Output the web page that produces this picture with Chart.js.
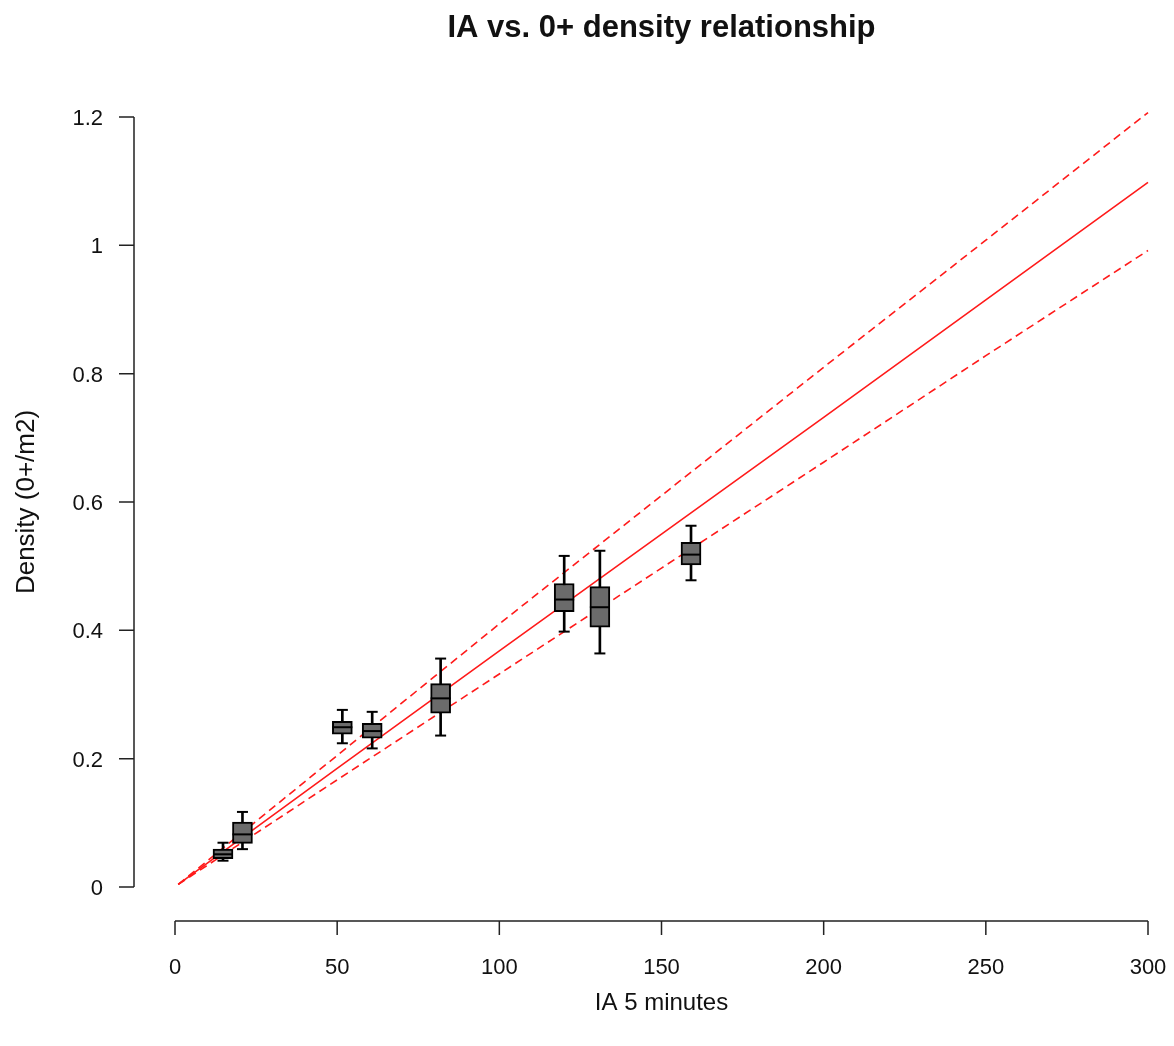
<!DOCTYPE html>
<html>
<head>
<meta charset="utf-8">
<title>IA vs. 0+ density relationship</title>
<script src="https://cdn.jsdelivr.net/npm/chart.js@4/dist/chart.umd.min.js"></script>
<style>
    html, body { margin: 0; padding: 0; background: #fff; }
    #chart { display: block; }
</style>
</head>
<body>
<canvas id="chart" width="1174" height="1046"></canvas>
<script>
// Данные боксплотов (IA, квартили, усы)
const boxX = [14.8, 20.8, 51.6, 60.8, 81.9, 120.0, 131.0, 159.1];
const boxLow = [0.041, 0.059, 0.224, 0.216, 0.236, 0.398, 0.364, 0.478];
const boxQ1 = [0.044, 0.068, 0.238, 0.232, 0.271, 0.429, 0.405, 0.502];
const boxMed = [0.051, 0.082, 0.249, 0.243, 0.294, 0.448, 0.436, 0.518];
const boxQ3 = [0.059, 0.101, 0.258, 0.255, 0.317, 0.473, 0.468, 0.537];
const boxHigh = [0.069, 0.117, 0.276, 0.273, 0.356, 0.516, 0.524, 0.563];

// Линия регрессии и доверительный интервал
const fitX = [1, 50, 100, 150, 200, 250, 300];
const fitY = [0.004, 0.185, 0.368, 0.55, 0.732, 0.915, 1.098];
const upperY = [0.004, 0.205, 0.41, 0.61, 0.81, 1.008, 1.207];
const lowerY = [0.004, 0.167, 0.332, 0.497, 0.662, 0.828, 0.992];

// Деления осей
const xTicks = [0, 50, 100, 150, 200, 250, 300];
const yTicks = [0, 0.2, 0.4, 0.6, 0.8, 1, 1.2];
const yTickLabels = ['0', '0.2', '0.4', '0.6', '0.8', '1', '1.2'];

const FONT = '"Liberation Sans", Arial, sans-serif';

function pts(xs, ys) {
    return xs.map((x, i) => ({ x: x, y: ys[i] }));
}

// Оси в стиле R (отдельно от области графика)
const rAxes = {
    id: 'rAxes',
    afterDraw(chart) {
        const ctx = chart.ctx;
        const xs = chart.scales.x;
        const ys = chart.scales.y;
        const area = chart.chartArea;
        ctx.save();
        ctx.strokeStyle = '#222';
        ctx.lineWidth = 1.5;
        ctx.fillStyle = '#111';

        // ось Y
        const axX = area.left - 41;
        ctx.beginPath();
        ctx.moveTo(axX, ys.getPixelForValue(yTicks[0]));
        ctx.lineTo(axX, ys.getPixelForValue(yTicks[yTicks.length - 1]));
        yTicks.forEach(v => {
            const py = ys.getPixelForValue(v);
            ctx.moveTo(axX, py);
            ctx.lineTo(axX - 15, py);
        });
        ctx.stroke();
        ctx.font = '22px ' + FONT;
        ctx.textAlign = 'right';
        ctx.textBaseline = 'middle';
        yTicks.forEach((v, i) => {
            ctx.fillText(yTickLabels[i], 103, ys.getPixelForValue(v) + 2);
        });

        // ось X
        const axY = area.bottom + 34;
        ctx.beginPath();
        ctx.moveTo(xs.getPixelForValue(xTicks[0]), axY);
        ctx.lineTo(xs.getPixelForValue(xTicks[xTicks.length - 1]), axY);
        xTicks.forEach(v => {
            const px = xs.getPixelForValue(v);
            ctx.moveTo(px, axY);
            ctx.lineTo(px, axY + 14);
        });
        ctx.stroke();
        ctx.textAlign = 'center';
        xTicks.forEach(v => {
            ctx.fillText(String(v), xs.getPixelForValue(v), 968);
        });

        // подписи осей
        ctx.font = '24px ' + FONT;
        ctx.fillText('IA 5 minutes', (area.left + area.right) / 2, 1003);
        ctx.save();
        ctx.translate(27, (area.top + area.bottom) / 2);
        ctx.rotate(-Math.PI / 2);
        ctx.font = '26px ' + FONT;
        ctx.fillText('Density (0+/m2)', 0, 0);
        ctx.restore();

        // заголовок
        ctx.font = 'bold 31px ' + FONT;
        ctx.fillText('IA vs. 0+ density relationship', (area.left + area.right) / 2, 28);
        ctx.restore();
    }
};

const ctx = document.getElementById('chart');

new Chart(ctx, {
    type: 'bar',
    data: {
        datasets: [
            {
                type: 'line',
                data: pts(fitX, upperY),
                borderColor: '#ff1a1a',
                borderWidth: 1.6,
                borderDash: [8, 5],
                pointRadius: 0,
                fill: false,
                clip: false,
                order: 10
            },
            {
                type: 'line',
                data: pts(fitX, lowerY),
                borderColor: '#ff1a1a',
                borderWidth: 1.6,
                borderDash: [8, 5],
                pointRadius: 0,
                fill: false,
                clip: false,
                order: 10
            },
            {
                type: 'line',
                data: pts(fitX, fitY),
                borderColor: '#ff1a1a',
                borderWidth: 1.6,
                pointRadius: 0,
                fill: false,
                clip: false,
                order: 10
            },
            // усы
            {
                type: 'bar',
                data: boxX.map((x, i) => ({ x: x, y: [boxLow[i], boxHigh[i]] })),
                backgroundColor: '#000',
                borderWidth: 0,
                barThickness: 2,
                grouped: false,
                order: 5
            },
            // ящики
            {
                type: 'bar',
                data: boxX.map((x, i) => ({ x: x, y: [boxQ1[i], boxQ3[i]] })),
                backgroundColor: '#6b6b6b',
                borderColor: '#000',
                borderWidth: 2,
                borderSkipped: false,
                barThickness: 20,
                grouped: false,
                order: 4
            },
            // медианы
            {
                type: 'scatter',
                data: pts(boxX, boxMed),
                pointStyle: 'line',
                pointRadius: 10,
                borderColor: '#000',
                borderWidth: 2,
                order: 1
            },
            // концы усов
            {
                type: 'scatter',
                data: pts(boxX, boxLow).concat(pts(boxX, boxHigh)),
                pointStyle: 'line',
                pointRadius: 5.5,
                borderColor: '#000',
                borderWidth: 2,
                order: 1
            }
        ]
    },
    options: {
        responsive: false,
        animation: false,
        events: [],
        layout: {
            padding: { left: 175, right: 26, top: 117, bottom: 159 }
        },
        scales: {
            x: {
                type: 'linear',
                min: 0,
                max: 300,
                offset: false,
                display: false
            },
            y: {
                min: 0,
                max: 1.2,
                display: false
            }
        },
        plugins: {
            legend: { display: false },
            tooltip: { enabled: false },
            title: { display: false }
        }
    },
    plugins: [rAxes]
});
</script>
</body>
</html>
